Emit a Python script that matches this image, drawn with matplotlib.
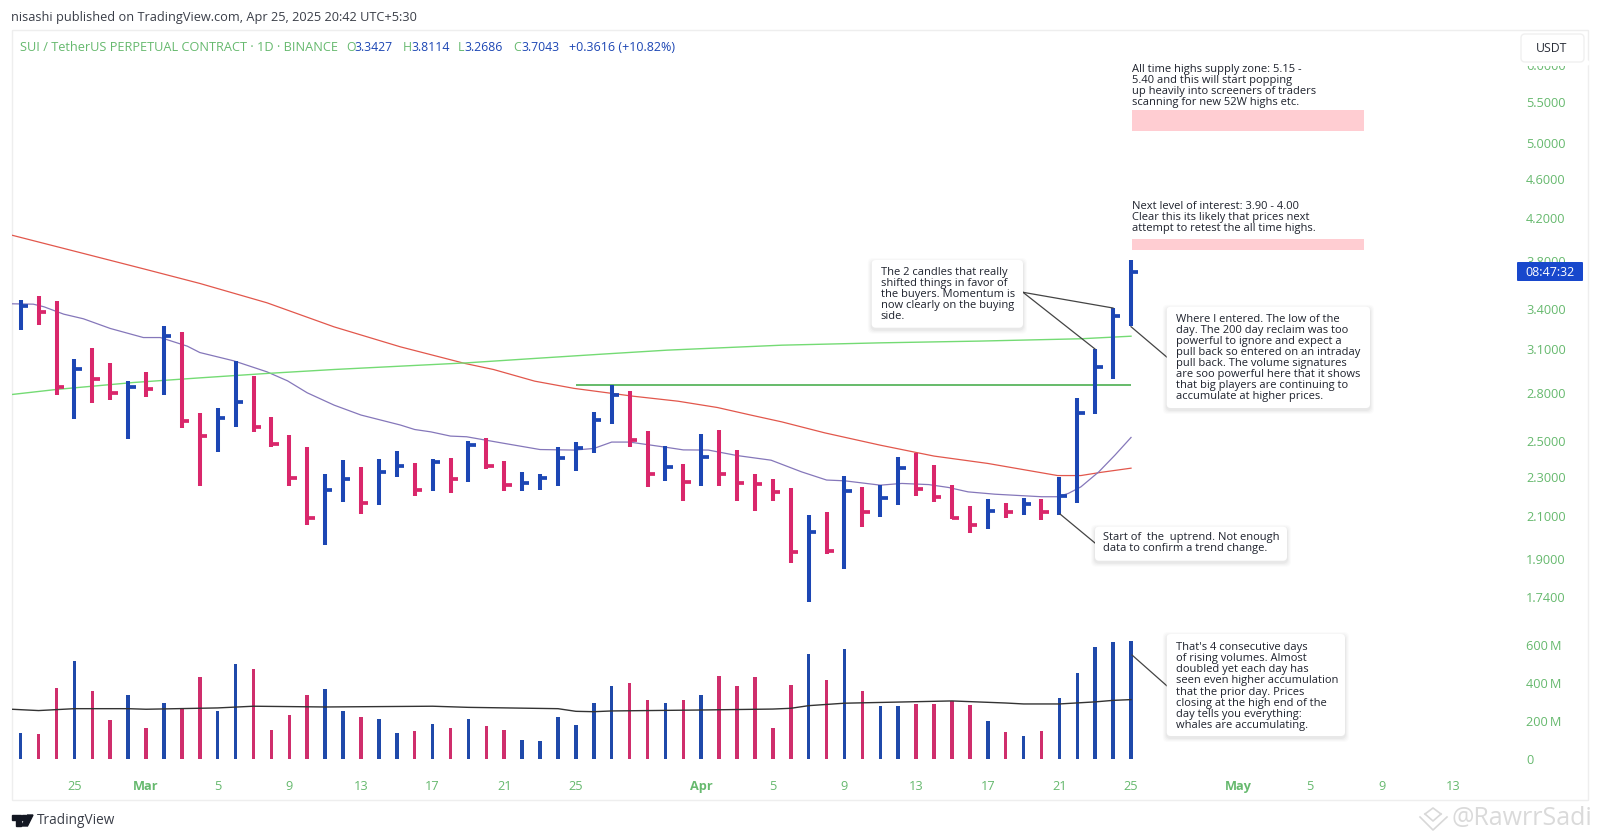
import matplotlib
matplotlib.use('Agg')
import matplotlib.pyplot as plt
from matplotlib.patches import FancyBboxPatch, Rectangle, Polygon
from matplotlib.lines import Line2D
from matplotlib.transforms import IdentityTransform

plt.rcParams['font.family'] = ['Open Sans', 'DejaVu Sans']

BLUE = '#1C46B4'
PINK = '#D9276B'
GREEN_TXT = '#66B96E'
NOTE_TXT = '#1E222D'

# daily bars, index 0 is Feb 22
highs = [3.472, 3.505, 3.467, 3.027, 3.110, 2.997, 2.876, 2.941, 3.266, 3.226, 2.668,
         2.705, 3.015, 2.912, 2.645, 2.539, 2.465, 2.318, 2.392, 2.358, 2.401, 2.442,
         2.380, 2.397, 2.403, 2.503, 2.517, 2.388, 2.326, 2.315, 2.465, 2.497, 2.674,
         2.849, 2.812, 2.560, 2.471, 2.371, 2.543, 2.566, 2.451, 2.319, 2.292, 2.241,
         2.109, 2.119, 2.304, 2.246, 2.261, 2.410, 2.436, 2.367, 2.261, 2.150, 2.184,
         2.167, 2.194, 2.184, 2.302, 2.765, 3.098, 3.406, 3.8114]
lows = [3.243, 3.276, 2.786, 2.631, 2.735, 2.754, 2.515, 2.775, 2.786, 2.578, 2.251,
        2.440, 2.584, 2.556, 2.469, 2.251, 2.058, 1.963, 2.171, 2.113, 2.157, 2.299,
        2.203, 2.229, 2.218, 2.274, 2.342, 2.229, 2.229, 2.233, 2.256, 2.331, 2.436,
        2.604, 2.467, 2.246, 2.279, 2.177, 2.251, 2.251, 2.177, 2.126, 2.177, 1.885,
        1.720, 1.923, 1.860, 2.049, 2.096, 2.155, 2.203, 2.169, 2.085, 2.020, 2.040,
        2.093, 2.109, 2.083, 2.109, 2.167, 2.666, 2.891, 3.2686]
closes = [3.424, 3.379, 2.838, 2.960, 2.890, 2.795, 2.836, 2.823, 3.198, 2.623, 2.531,
          2.639, 2.739, 2.584, 2.484, 2.297, 2.094, 2.235, 2.291, 2.167, 2.329, 2.360,
          2.233, 2.382, 2.292, 2.478, 2.362, 2.260, 2.269, 2.297, 2.403, 2.463, 2.625,
          2.784, 2.507, 2.315, 2.358, 2.272, 2.412, 2.315, 2.269, 2.264, 2.222, 1.931,
          2.026, 1.937, 2.227, 2.119, 2.194, 2.351, 2.239, 2.198, 2.093, 2.057, 2.127,
          2.122, 2.159, 2.119, 2.201, 2.672, 2.969, 3.348, 3.7043]
up = [1, 0, 0, 1, 0, 0, 1, 0, 1, 0, 0, 1, 1, 0, 0, 0, 0, 1, 1, 0, 1, 1,
      0, 1, 0, 1, 0, 0, 1, 1, 1, 1, 1, 1, 0, 0, 1, 0, 1, 0, 0, 0, 0, 0,
      1, 0, 1, 0, 1, 1, 0, 0, 0, 0, 1, 0, 1, 0, 1, 1, 1, 1, 1]
volumes = [134, 129, 373, 518, 359, 205, 340, 163, 297, 269, 433, 251, 499, 476, 152, 232,
           340, 368, 251, 223, 209, 134, 149, 184, 163, 209, 172, 152, 97, 92, 219, 177,
           294, 387, 401, 313, 294, 313, 336, 439, 384, 433, 163, 393, 555, 419, 580, 359,
           279, 279, 290, 290, 306, 285, 200, 143, 120, 149, 322, 453, 592, 617, 621]

red_x = [-0.5, 3.3, 7, 10, 13.75, 17.5, 21.2, 24.8, 26.4, 28.7, 30.9, 34.2, 36.7, 38.9,
         40.8, 42.5, 44.9, 48, 51, 54, 57.9, 59.2, 60.3, 62]
red_y = [4.039, 3.879, 3.729, 3.610, 3.451, 3.263, 3.115, 2.997, 2.955, 2.876, 2.828, 2.777,
         2.745, 2.705, 2.657, 2.616, 2.550, 2.478, 2.416, 2.375, 2.309, 2.309, 2.326, 2.349]
purple_x = [-0.5, 0.7, 1.3, 2.4, 3.5, 5, 6.85, 7.8, 9.3, 10, 11.9, 13.75, 14.9, 16, 17.5, 19,
            21.2, 22, 22.9, 24, 24.9, 26.8, 29, 30.9, 32, 33, 34, 36.1, 37, 38.4, 40, 41.9,
            43.6, 45, 46, 48, 49.2, 50.7, 51.8, 52.9, 54.4, 57, 57.9, 58.5, 59.2, 60.2, 61.1, 62]
purple_y = [3.443, 3.44, 3.419, 3.361, 3.325, 3.251, 3.183, 3.183, 3.120, 3.074, 3.015, 2.939,
            2.878, 2.799, 2.720, 2.658, 2.597, 2.570, 2.556, 2.531, 2.527, 2.492, 2.453, 2.450,
            2.459, 2.496, 2.496, 2.465, 2.451, 2.450, 2.419, 2.393, 2.329, 2.285, 2.281, 2.258,
            2.267, 2.261, 2.246, 2.223, 2.211, 2.198, 2.198, 2.215, 2.249, 2.329, 2.421, 2.523]
green_x = [-0.5, 2, 6.3, 10, 13.75, 17.5, 21.2, 24.9, 28.7, 32.4, 36.1, 42.5, 48, 53.6, 59.2, 62]
green_y = [2.788, 2.821, 2.867, 2.898, 2.928, 2.955, 2.978, 3.001, 3.032, 3.062, 3.091, 3.127,
           3.144, 3.157, 3.174, 3.193]
vol_ma_x = [-0.5, 1, 3, 6, 7, 11, 13, 17, 23, 25, 30, 31, 32, 33, 38, 42, 43, 44, 46, 50, 52,
            55, 56, 58, 60, 61, 62]
vol_ma_y = [262, 255, 265, 265, 262, 269, 278, 274, 278, 272, 265, 251, 249, 253, 258, 263, 267,
            281, 294, 302, 306, 295, 290, 290, 301, 309, 313]

level_price = 2.85
zone_low = [5.15, 3.90]
zone_high = [5.40, 4.00]

price_ticks = [6.0, 5.5, 5.0, 4.6, 4.2, 3.8, 3.4, 3.1, 2.8, 2.5, 2.3, 2.1, 1.9, 1.74]
vol_ticks = [0, 200, 400, 600]
vol_labels = ['0', '200\u2009M', '400\u2009M', '600\u2009M']
day_ticks = [3, 7, 11, 15, 19, 23, 27, 31, 38, 42, 46, 50, 54, 58, 62, 68, 72, 76, 80]
day_labels = ['25', 'Mar', '5', '9', '13', '17', '21', '25', 'Apr', '5', '9', '13', '17', '21',
              '25', 'May', '5', '9', '13']

note_top = ['All time highs supply zone: 5.15 -', '5.40 and this will start popping',
            'up heavily into screeners of traders', 'scanning for new 52W highs etc.']
note_next = ['Next level of interest: 3.90 - 4.00', 'Clear this its likely that prices next',
             'attempt to retest the all time highs.']
note_candles = ['The 2 candles that really', 'shifted things in favor of', 'the buyers. Momentum is',
                'now clearly on the buying', 'side.']
note_entry = ['Where I entered. The low of the', 'day. The 200 day reclaim was too',
              'powerful to ignore and expect a', 'pull back so entered on an intraday',
              'pull back. The volume signatures', 'are soo powerful here that it shows',
              'that big players are continuing to', 'accumulate at higher prices.']
note_start = ['Start of  the  uptrend. Not enough', 'data to confirm a trend change.']
note_vol = ["That's 4 consecutive days", 'of rising volumes. Almost', 'doubled yet each day has',
            'seen even higher accumulation', 'that the prior day. Prices',
            'closing at the high end of the', 'day tells you everything:', 'whales are accumulating.']

W, H = 1600, 840
fig = plt.figure(figsize=(W / 100, H / 100), dpi=100, facecolor='white')


def axes_px(x0, y0, x1, y1):
    return fig.add_axes([x0 / W, 1 - y1 / H, (x1 - x0) / W, (y1 - y0) / H])


def put(x, y, s, color=NOTE_TXT, size=8.0, **kw):
    kw.setdefault('va', 'center')
    return fig.text(x / W, 1 - y / H, s, color=color, fontsize=size, zorder=12, **kw)


def box(x0, y0, x1, y1, color='white', round_px=4, z=8, **kw):
    p = FancyBboxPatch((x0 + round_px, H - y1 + round_px), x1 - x0 - 2 * round_px, y1 - y0 - 2 * round_px,
                       boxstyle='round,pad=%d,rounding_size=%d' % (round_px, round_px),
                       transform=IdentityTransform(), fc=color, ec=kw.pop('ec', 'none'),
                       lw=kw.pop('lw', 0), alpha=kw.pop('alpha', 1), zorder=z)
    fig.add_artist(p)


def callout(x0, y0, x1, y1):
    # soft shadow, then the card
    for grow, a in [(4, 0.015), (3, 0.02), (2, 0.025), (1, 0.03)]:
        box(x0 - grow, y0 - grow + 2, x1 + grow, y1 + grow + 2, color='black', alpha=a, round_px=5, z=7)
    box(x0, y0, x1, y1)


def lines(x, y, rows, step=11.1):
    for k, row in enumerate(rows):
        put(x, y + 1.0 + k * step, row)


def link(x0, y0, x1, y1, color='#444444'):
    fig.add_artist(Line2D([x0 / W, x1 / W], [1 - y0 / H, 1 - y1 / H], color=color, lw=0.9, zorder=6))


# pane frame
fig.add_artist(Rectangle((11.7 / W, 1 - 800 / H), (1588 - 11.7) / W, 770 / H, fill=False,
                         ec='#EEEEEE', lw=1, zorder=0))

# axis limits that put the days and prices where the chart has them
xlim = (-0.503, 83.72)
ax = axes_px(11.7, 30, 1520, 625)
vax = axes_px(11.7, 625, 1520, 778)

days = list(range(len(closes)))
colors = [BLUE if u else PINK for u in up]

ax.set_yscale('log')
ax.plot(red_x, red_y, color='#E2574C', lw=0.9, zorder=1)
ax.plot(purple_x, purple_y, color='#8577BA', lw=0.9, zorder=1)
ax.plot(green_x, green_y, color='#74DB74', lw=1.0, zorder=1)
ax.hlines(level_price, 31, 62, color='#4CAF50', lw=1.2, zorder=1)
for low, high in zip(zone_low, zone_high):
    ax.fill_between([62.05, 75], low, high, color='#FFCDD2', lw=0, zorder=1)
ax.vlines(days, lows, highs, color=colors, lw=2.9, zorder=3, capstyle='butt')
ax.hlines(closes, days, [d + 0.41 for d in days], color=colors, lw=2.7, zorder=3)

ax.set_xlim(xlim)
ax.set_ylim(1.631, 6.509)
ax.minorticks_off()
ax.set_yticks(price_ticks, ['%.4f' % t for t in price_ticks])
ax.set_xticks([])
ax.yaxis.tick_right()
ax.tick_params(axis='y', length=0, pad=4.5, labelsize=9.2, labelcolor=GREEN_TXT)

vax.bar(days, volumes, width=0.2, color=[('#1F49AA' if u else '#CF2E6C') for u in up], zorder=2)
vax.plot(vol_ma_x, vol_ma_y, color='#333333', lw=1.0, zorder=3)
vax.set_xlim(xlim)
vax.set_ylim(-102, 708)
vax.set_yticks(vol_ticks, vol_labels)
vax.set_xticks(day_ticks, day_labels)
vax.yaxis.tick_right()
vax.tick_params(axis='y', length=0, pad=4.5, labelsize=9.2, labelcolor=GREEN_TXT)
vax.tick_params(axis='x', length=0, pad=1.5, labelsize=9.2, labelcolor=GREEN_TXT)
for lab in vax.get_xticklabels():
    if lab.get_text() in ('Mar', 'Apr', 'May'):
        lab.set_fontweight('bold')

for a in (ax, vax):
    for s in a.spines.values():
        s.set_visible(False)
    a.patch.set_alpha(0)

# header
put(11, 17, 'nisashi published on TradingView.com, Apr 25, 2025 20:42 UTC+5:30', color='#3A3E48', size=9.15)
put(20, 47.5, 'SUI / TetherUS PERPETUAL CONTRACT · 1D · BINANCE', color=GREEN_TXT, size=9.15)
for x, letter, val in [(346, 'O', '3.3427'), (403, 'H', '3.8114'), (458, 'L', '3.2686'), (513, 'C', '3.7043')]:
    put(x, 47.5, letter, color=GREEN_TXT, size=8.8)
    put(x + (6 if letter == 'L' else 8), 47.5, val, color=BLUE, size=8.8)
put(569, 47.5, '+0.3616 (+10.82%)', color=BLUE, size=9.0)

# currency button and countdown
box(1515, 60, 1590, 66, z=7)
box(1521, 34, 1584, 62, ec='#F0F0F0', lw=1)
put(1552, 48, 'USDT', color='#2A2E39', size=8.8, ha='center')
box(1517, 262, 1583, 281, color='#1848CC', round_px=1)
put(1550, 272, '08:47:32', color='white', size=9, ha='center')

# notes above the pink zones
lines(1132.5, 68.5, note_top)
lines(1132.5, 205.7, note_next)

# callouts
link(1023, 292.3, 1113, 308)
link(1023, 292.3, 1095, 349)
callout(871.7, 260, 1023, 327.7)
lines(880.7, 271, note_candles)

link(1131, 326.7, 1166.7, 357)
callout(1166.7, 306.7, 1370, 408)
lines(1176, 318, note_entry)

link(1060, 514, 1095, 543)
callout(1095, 526.7, 1287, 560.7)
lines(1103, 536.7, note_start)

link(1132, 655, 1166.7, 685.7)
callout(1166.7, 634, 1345, 736)
lines(1176, 646.7, note_vol)

# logo and watermark
logo = [Polygon([(11.5 / W, 1 - 815 / H), (21 / W, 1 - 815 / H), (21 / W, 1 - 826 / H),
                 (15.5 / W, 1 - 826 / H), (15.5 / W, 1 - 819.5 / H), (11.5 / W, 1 - 819.5 / H)]),
        Polygon([(22 / W, 1 - 815.2 / H), (26 / W, 1 - 815.2 / H), (26 / W, 1 - 819.5 / H), (22 / W, 1 - 819.5 / H)]),
        Polygon([(27.5 / W, 1 - 815 / H), (33 / W, 1 - 815 / H), (27.5 / W, 1 - 826 / H), (21.5 / W, 1 - 826 / H)])]
for p in logo:
    p.set_color('#131722')
    p.set_zorder(10)
    fig.add_artist(p)
put(37, 820.5, 'TradingView', color='#3A3E48', size=9.8)
put(1451.5, 818.5, '@RawrrSadi', color='#DADADA', size=18)
for xs, ys in [([1420, 1433, 1447], [817, 830, 817]), ([1425, 1433, 1441], [814, 821, 814]),
               ([1425, 1433, 1441], [814, 808, 814])]:
    fig.add_artist(Line2D([x / W for x in xs], [1 - y / H for y in ys], color='#D8D8D8', lw=1.2, zorder=10))

fig.savefig('out.png', dpi=100, facecolor='white')
